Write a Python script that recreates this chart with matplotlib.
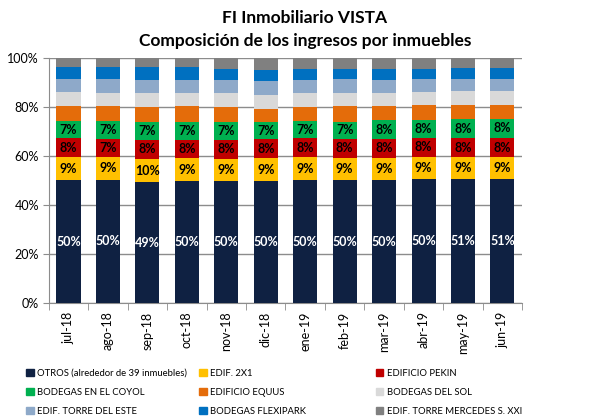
import matplotlib
matplotlib.use("Agg")
import matplotlib.pyplot as plt
import matplotlib.patches as mpatches
import numpy as np

plt.rcParams['font.family'] = ['Lato', 'DejaVu Sans']

# Data (shares in %)
months = ["jul-18", "ago-18", "sep-18", "oct-18", "nov-18", "dic-18",
          "ene-19", "feb-19", "mar-19", "abr-19", "may-19", "jun-19"]
otros = [50.1, 50.2, 49.2, 49.6, 49.6, 49.7, 50.0, 50.1, 50.1, 50.4, 50.6, 50.7]
edif_2x1 = [9.4, 9.4, 9.6, 9.4, 9.3, 9.4, 9.4, 9.2, 9.2, 9.2, 9.0, 8.9]
pekin = [7.6, 7.4, 7.6, 7.6, 7.6, 7.6, 7.7, 7.6, 7.6, 7.6, 7.5, 7.5]
coyol = [7.2, 7.1, 7.4, 7.2, 7.3, 7.1, 7.0, 6.9, 7.6, 7.6, 7.8, 8.1]
equus = [5.9, 6.1, 6.2, 6.4, 6.2, 5.1, 5.9, 6.4, 5.7, 5.9, 6.0, 5.7]
sol = [5.9, 5.5, 5.7, 5.6, 5.8, 5.8, 5.8, 5.6, 5.6, 5.4, 5.5, 5.5]
este = [5.1, 5.5, 5.4, 5.3, 5.0, 5.7, 5.3, 5.4, 5.3, 5.1, 5.1, 5.1]
flexipark = [4.8, 4.8, 4.9, 4.9, 4.5, 4.5, 4.1, 4.0, 4.1, 4.1, 4.1, 4.1]
mercedes = [4.0, 4.0, 4.0, 4.0, 4.7, 5.1, 4.8, 4.8, 4.8, 4.7, 4.4, 4.4]

series = [
    ("OTROS (alrededor de 39 inmuebles)", otros, "#0F2142"),
    ("EDIF. 2X1", edif_2x1, "#FFC000"),
    ("EDIFICIO PEKIN", pekin, "#C00000"),
    ("BODEGAS EN EL COYOL", coyol, "#00B050"),
    ("EDIFICIO EQUUS", equus, "#E46C0A"),
    ("BODEGAS DEL SOL", sol, "#D9D9D9"),
    ("EDIF. TORRE DEL ESTE", este, "#8EA9C9"),
    ("BODEGAS FLEXIPARK", flexipark, "#0070C0"),
    ("EDIF. TORRE MERCEDES S. XXI", mercedes, "#808080"),
]

fig = plt.figure(figsize=(6.10, 4.18), dpi=100)
ax = fig.add_axes([0.080, 0.275, 0.776, 0.587])

x = np.arange(len(months))
bottom = np.zeros(len(months))
handles = []
for i, (name, vals, color) in enumerate(series):
    vals = np.array(vals)
    bars = ax.bar(x, vals, 0.61, bottom=bottom, color=color, zorder=3)
    handles.append(mpatches.Patch(color=color, label=name))
    if i < 4:
        txtcolor = "white" if i == 0 else "black"
        for xi, b, v in zip(x, bottom, vals):
            ax.text(xi, b + v / 2, "%d%%" % round(v), ha="center", va="center",
                    fontsize=9, fontweight="bold", color=txtcolor, zorder=4)
    bottom += vals

ax.set_ylim(0, 100)
ax.set_xlim(-0.5, len(months) - 0.5)
ax.set_yticks(range(0, 101, 20))
ax.set_yticklabels(["%d%%" % v for v in range(0, 101, 20)], fontsize=9)
ax.yaxis.grid(True, color="#8C8C8C", linewidth=1, zorder=0)
ax.set_xticks(x)
ax.set_xticklabels(months, rotation=90, fontsize=9)
ax.set_xticks(np.arange(-0.5, len(months)), minor=True)
ax.tick_params(axis="x", which="major", length=0, pad=6)
ax.tick_params(axis="x", which="minor", length=5, color="#8C8C8C")
ax.tick_params(axis="y", length=4, color="#8C8C8C", pad=3)
for s in ["top", "right"]:
    ax.spines[s].set_visible(False)
for s in ["left", "bottom"]:
    ax.spines[s].set_color("#8C8C8C")

fig.text(0.5, 0.958, "FI Inmobiliario VISTA", ha="center", va="center",
         fontsize=12.5, fontweight="bold")
fig.text(0.5, 0.903, "Composición de los ingresos por inmuebles", ha="center",
         va="center", fontsize=12.5, fontweight="bold")

# legend: three columns placed separately
col_x = [0.0434, 0.327, 0.617]
for c in range(3):
    hs = [handles[c], handles[c + 3], handles[c + 6]]
    fig.legend(handles=hs, loc="upper left", bbox_to_anchor=(col_x[c], 0.118),
               frameon=False, fontsize=6.8, handlelength=0.75, handleheight=0.75,
               handletextpad=0.35, labelspacing=1.05, borderpad=0, borderaxespad=0)

fig.savefig("out.png", dpi=100)
